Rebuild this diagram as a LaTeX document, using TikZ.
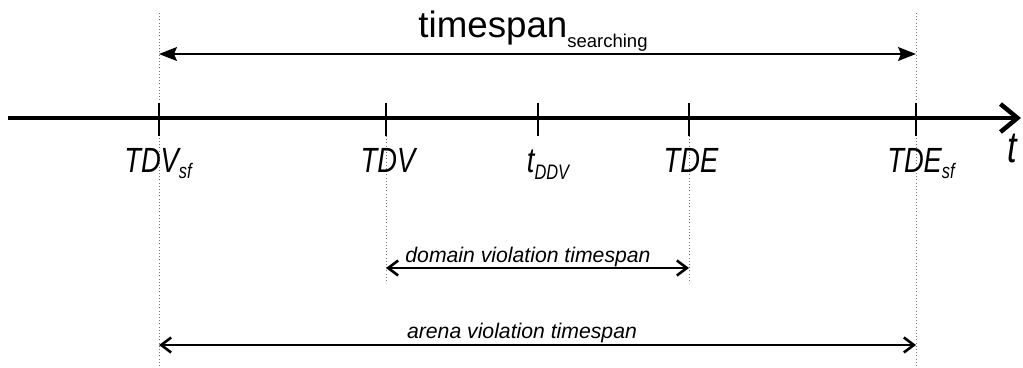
\documentclass[tikz,border=0pt]{standalone}
\usepackage{fontspec}
\setmainfont{Liberation Sans}
\newfontfamily\narrowfont[FakeStretch=0.78]{Liberation Sans}
\usetikzlibrary{arrows.meta}
\newcommand\lowsub[2][6pt]{\raisebox{-#1}{\fontsize{21}{22}\selectfont #2}}
\begin{document}
\begin{tikzpicture}[x=1pt,y=-1pt,
  axis/.style={line width=4.5pt,-{Straight Barb[length=17pt,width=28pt]}},
  tick/.style={line width=1.3pt},
  guide/.style={black!55,line width=1pt,dash pattern=on 1pt off 2.2pt},
  span/.style={line width=1.6pt,{Straight Barb[length=10pt,width=15pt,line width=2.6pt]}-{Straight Barb[length=10pt,width=15pt,line width=2.6pt]}},
  search/.style={line width=1.3pt,{Stealth[length=18pt,width=14pt,inset=3pt]}-{Stealth[length=18pt,width=14pt,inset=3pt]}},
  lbl/.style={font=\narrowfont\itshape\fontsize{35}{36}\selectfont,inner sep=0pt,anchor=base},
  desc/.style={font=\itshape\fontsize{21.2}{23}\selectfont,inner sep=0pt,anchor=base},
  title/.style={font=\fontsize{36.7}{40}\selectfont,inner sep=0pt,anchor=base}]
\useasboundingbox (0,0) rectangle (1023,367);
\coordinate (top) at (0,13);
\coordinate (bot) at (0,367);
\coordinate (srch) at (0,54);
\coordinate (dom) at (0,268);
\coordinate (domend) at (0,283);
\coordinate (arena) at (0,345);
\coordinate (start) at (8,118);
\coordinate (end) at (1021,118);
\coordinate (tdvsf) at (159,118);
\coordinate (tdv) at (386,118);
\coordinate (tddv) at (538,118);
\coordinate (tde) at (689,118);
\coordinate (tdesf) at (916,118);

\draw[guide] (tdvsf |- top) -- (tdvsf |- bot);
\draw[guide] (tdesf |- top) -- (tdesf |- bot);
\draw[guide] ([yshift=-18pt]tdv) -- (tdv |- domend);
\draw[guide] ([yshift=-18pt]tde) -- (tde |- domend);

\draw[axis] (start) -- (end);
\draw[tick] ([yshift=15pt]tdvsf) -- ([yshift=-18pt]tdvsf);
\draw[tick] ([yshift=15pt]tdv) -- ([yshift=-18pt]tdv);
\draw[tick] ([yshift=15pt]tddv) -- ([yshift=-18pt]tddv);
\draw[tick] ([yshift=15pt]tde) -- ([yshift=-18pt]tde);
\draw[tick] ([yshift=15pt]tdesf) -- ([yshift=-18pt]tdesf);

\node[lbl] (ltdvsf) at (158,172) {TDV\lowsub{sf}};
\node[lbl] (ltdv) at (388,172) {TDV};
\node[lbl] (ltddv) at (548,172) {t\lowsub[7pt]{DDV}};
\node[lbl] (ltde) at (691,172) {TDE};
\node[lbl] (ltdesf) at (921,172) {TDE\lowsub{sf}};
\node[lbl,font=\narrowfont\itshape\fontsize{44}{46}\selectfont] (taxis) at (1012,162) {t};

\node[title] (ts) at (533,37) {timespan\raisebox{-10pt}{\fontsize{18.5}{20}\selectfont searching}};
\draw[search] (tdvsf |- srch) -- (tdesf |- srch);

\node[desc] (domtxt) at (528,262) {domain violation timespan};
\draw[span] (tdv |- dom) -- (tde |- dom);
\node[desc] (arenatxt) at (522,338) {arena violation timespan};
\draw[span] (tdvsf |- arena) -- (tdesf |- arena);
\end{tikzpicture}
\end{document}
